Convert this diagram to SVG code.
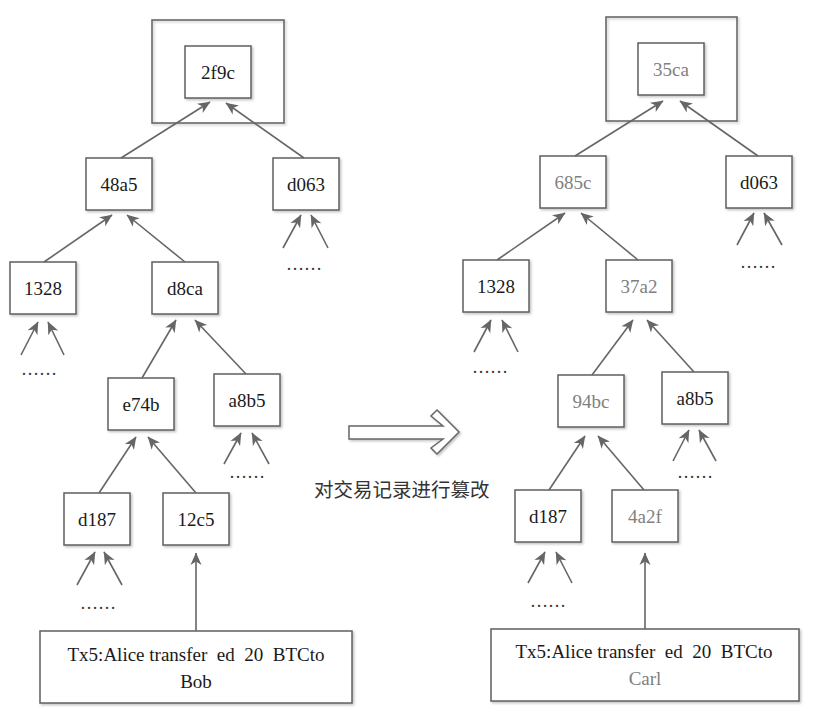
<svg xmlns="http://www.w3.org/2000/svg" width="830" height="713" viewBox="0 0 830 713" font-family="Liberation Serif, Times New Roman, serif">
<style>
.box{fill:#fff;stroke:#5f5f5f;stroke-width:1.5;filter:url(#sh)}
.frame{fill:none;stroke:#5f5f5f;stroke-width:1.5;filter:url(#sh)}
.t{font-size:19px;fill:#1a1a1a;text-anchor:middle}
.g{fill:#808080}
.dots{font-size:18px;fill:#333;text-anchor:middle}
.cn{font-size:19.5px;fill:#333}
.c line{stroke:#666;stroke-width:1.6;marker-end:url(#ah)}
</style>
<defs>
<filter id="sh" x="-10%" y="-10%" width="130%" height="130%">
<feDropShadow dx="1.5" dy="1.5" stdDeviation="0.8" flood-color="#999" flood-opacity="0.6"/>
</filter>
<marker id="ah" viewBox="-13 -6 14 12" markerWidth="14" markerHeight="12" refX="0" refY="0" markerUnits="userSpaceOnUse" orient="auto">
<path d="M0.5,0 L-12,-5.5 L-8.5,0 L-12,5.5 z" fill="#666"/>
</marker>
</defs>
<rect width="830" height="713" fill="#fff"/>

<!-- left tree -->
<g id="root-frame-left"><rect class="frame" x="152" y="20" width="132" height="103"/></g>
<g id="n-2f9c"><rect class="box" x="185" y="46" width="66" height="52"/><text class="t" x="218" y="79" font-family="Liberation Serif, serif">2f9c</text></g>
<g id="n-48a5"><rect class="box" x="86" y="158" width="66" height="52"/><text class="t" x="119" y="191">48a5</text></g>
<g id="n-d063-l"><rect class="box" x="273" y="158" width="66" height="52"/><text class="t" x="306" y="191">d063</text></g>
<g id="n-1328-l"><rect class="box" x="10" y="262" width="66" height="52"/><text class="t" x="43" y="295">1328</text></g>
<g id="n-d8ca"><rect class="box" x="152" y="262" width="66" height="52"/><text class="t" x="185" y="295">d8ca</text></g>
<g id="n-e74b"><rect class="box" x="108" y="378" width="66" height="52"/><text class="t" x="141" y="411">e74b</text></g>
<g id="n-a8b5-l"><rect class="box" x="214" y="374" width="66" height="52"/><text class="t" x="247" y="407">a8b5</text></g>
<g id="n-d187-l"><rect class="box" x="64" y="493" width="66" height="52"/><text class="t" x="97" y="526">d187</text></g>
<g id="n-12c5"><rect class="box" x="163" y="493" width="66" height="52"/><text class="t" x="196" y="526">12c5</text></g>
<g id="n-tx-l"><rect class="box" x="40" y="631" width="312" height="72"/>
<text class="t" x="196" y="661" xml:space="preserve">Tx5:Alice transfer  ed  20  BTCto</text>
<text class="t" x="196" y="688">Bob</text></g>

<!-- right tree -->
<g id="root-frame-right"><rect class="frame" x="606" y="17" width="131" height="104"/></g>
<g id="n-35ca"><rect class="box" x="638" y="43" width="66" height="52"/><text class="t g" x="671" y="76">35ca</text></g>
<g id="n-685c"><rect class="box" x="540" y="156" width="66" height="52"/><text class="t g" x="573" y="189">685c</text></g>
<g id="n-d063-r"><rect class="box" x="726" y="156" width="66" height="52"/><text class="t" x="759" y="189">d063</text></g>
<g id="n-1328-r"><rect class="box" x="463" y="260" width="66" height="52"/><text class="t" x="496" y="293">1328</text></g>
<g id="n-37a2"><rect class="box" x="606" y="260" width="66" height="52"/><text class="t g" x="639" y="293">37a2</text></g>
<g id="n-94bc"><rect class="box" x="558" y="375" width="66" height="52"/><text class="t g" x="591" y="408">94bc</text></g>
<g id="n-a8b5-r"><rect class="box" x="662" y="372" width="66" height="52"/><text class="t" x="695" y="405">a8b5</text></g>
<g id="n-d187-r"><rect class="box" x="515" y="490" width="66" height="52"/><text class="t" x="548" y="523">d187</text></g>
<g id="n-4a2f"><rect class="box" x="612" y="490" width="66" height="52"/><text class="t g" x="645" y="523">4a2f</text></g>
<g id="n-tx-r"><rect class="box" x="491" y="629" width="308" height="72"/>
<text class="t" x="644" y="658" xml:space="preserve">Tx5:Alice transfer  ed  20  BTCto</text>
<text class="t g" x="645" y="685">Carl</text></g>

<!-- middle transition arrow and label -->
<g id="tamper-arrow"><polygon points="349,426 443,426 431,416 437,410 459,432 437,454 431,448 443,439 349,439" fill="#fff" stroke="#666" stroke-width="1.5" stroke-linejoin="miter" filter="url(#sh)"/></g>
<g id="tamper-label"><text class="cn" x="314" y="497" font-family="Liberation Serif, Noto Sans CJK SC, sans-serif">对交易记录进行篡改</text></g>

<!-- connectors -->
<g id="connectors" class="c">
<line x1="121" y1="158" x2="210" y2="102"/>
<line x1="304" y1="158" x2="226" y2="103"/>
<line x1="44" y1="262" x2="112" y2="215"/>
<line x1="185" y1="262" x2="127" y2="215"/>
<line x1="142" y1="378" x2="176" y2="320"/>
<line x1="246" y1="374" x2="195" y2="320"/>
<line x1="21" y1="355" x2="38" y2="322"/>
<line x1="64" y1="355" x2="48" y2="322"/>
<line x1="283" y1="248" x2="301" y2="215"/>
<line x1="328" y1="248" x2="311" y2="215"/>
<line x1="224" y1="464" x2="241" y2="433"/>
<line x1="269" y1="464" x2="252" y2="433"/>
<line x1="99" y1="493" x2="136" y2="437"/>
<line x1="196" y1="493" x2="148" y2="437"/>
<line x1="77" y1="585" x2="95" y2="552"/>
<line x1="122" y1="585" x2="104" y2="552"/>
<line x1="196" y1="631" x2="196" y2="553"/>

<line x1="575" y1="156" x2="663" y2="101"/>
<line x1="758" y1="156" x2="680" y2="101"/>
<line x1="497" y1="260" x2="565" y2="213"/>
<line x1="638" y1="260" x2="581" y2="213"/>
<line x1="592" y1="375" x2="633" y2="320"/>
<line x1="694" y1="372" x2="647" y2="320"/>
<line x1="737" y1="245" x2="754" y2="213"/>
<line x1="782" y1="245" x2="764" y2="213"/>
<line x1="474" y1="352" x2="491" y2="320"/>
<line x1="518" y1="352" x2="502" y2="320"/>
<line x1="673" y1="461" x2="689" y2="430"/>
<line x1="716" y1="461" x2="699" y2="430"/>
<line x1="549" y1="490" x2="585" y2="436"/>
<line x1="644" y1="490" x2="598" y2="436"/>
<line x1="528" y1="583" x2="545" y2="552"/>
<line x1="572" y1="583" x2="556" y2="552"/>
<line x1="645" y1="629" x2="645" y2="553"/>
</g>

<!-- ellipses -->
<g id="ellipsis-marks">
<text class="dots" x="39" y="375">……</text>
<text class="dots" x="304" y="270">……</text>
<text class="dots" x="247" y="478">……</text>
<text class="dots" x="98" y="609">……</text>
<text class="dots" x="490" y="373">……</text>
<text class="dots" x="758" y="268">……</text>
<text class="dots" x="695" y="478">……</text>
<text class="dots" x="548" y="607">……</text>
</g>
</svg>
